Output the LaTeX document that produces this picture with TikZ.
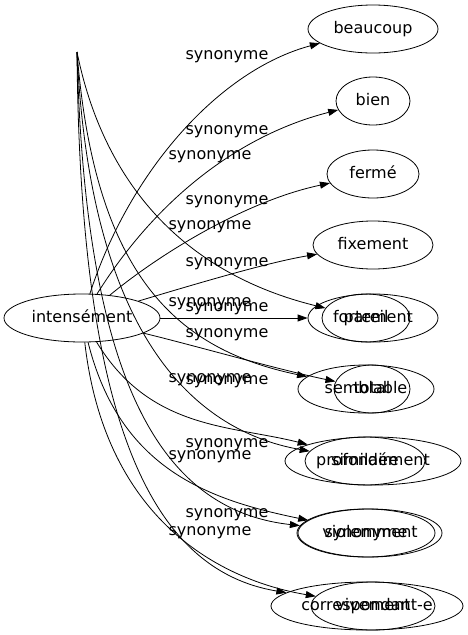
\documentclass[tikz,border=0pt]{standalone}
\usepackage{fontspec}
\setmainfont{DejaVu Sans}
\usepackage{tikz}
\usetikzlibrary{arrows.meta,shapes.geometric}
\newcommand{\wordfont}{\fontsize{16}{19}\selectfont}

\begin{document}
\begin{tikzpicture}[x=1pt,y=-1pt,
  word/.style={draw,ellipse,line width=0.8pt,inner sep=0pt,minimum height=48pt,text height=11.5pt,text depth=3.5pt,font=\wordfont},
  rel/.style={-{Triangle[length=10pt,width=7pt]},line width=0.8pt},
  lab/.style={font=\wordfont,inner sep=0pt,text height=11.5pt,text depth=3.5pt}]
  \useasboundingbox (0,0) rectangle (467,635);
  \node[word,minimum width=156pt] (I0) at (82,318) {intensément};
  \node[word,minimum width=130pt] (S1) at (373,29) {beaucoup};
  \node[word,minimum width=74pt] (S2) at (373,101) {bien};
  \node[word,minimum width=92pt] (S3) at (373,174) {fermé};
  \node[word,minimum width=120pt] (S4) at (373,245) {fixement};
  \node[word,minimum width=130pt] (S5) at (373,318) {fortement};
  \node[word,minimum width=76pt] (S6) at (372,389) {total};
  \node[word,minimum width=176pt] (S7) at (373,461) {profondément};
  \node[word,minimum width=144pt] (S8) at (370,533) {violemment};
  \node[word,minimum width=124pt] (S9) at (373,606) {vivement};
  \coordinate (T0) at (77,52);
  \node[word,minimum width=88pt] (T1) at (366,318) {pareil};
  \node[word,minimum width=136pt] (T2) at (366,389) {semblable};
  \node[word,minimum width=120pt] (T3) at (365,461) {similaire};
  \node[word,minimum width=138pt] (T4) at (366,533) {synonyme};
  \node[word,minimum width=192pt] (T5) at (367,606) {correspondant-e};
  \draw[rel] (I0) .. controls (130,170) and (220,70) .. (S1);
  \draw[rel] (I0) .. controls (157,198) and (240,135) .. (S2);
  \draw[rel] (I0) .. controls (166,249) and (250,200) .. (S3);
  \draw[rel] (I0) .. controls (202,282) and (270,262) .. (S4);
  \draw[rel] (I0) -- (S5);
  \draw[rel] (I0) .. controls (200,347) and (280,370) .. (S6);
  \draw[rel] (I0) .. controls (150,430) and (230,425) .. (S7);
  \draw[rel] (I0) .. controls (120,470) and (210,500) .. (S8);
  \draw[rel] (I0) .. controls (105,520) and (220,580) .. (S9);
  \draw[rel] (T0) .. controls (105,190) and (190,275) .. (T1);
  \draw[rel] (T0) .. controls (95,280) and (180,350) .. (T2);
  \draw[rel] (T0) .. controls (90,330) and (190,430) .. (T3);
  \draw[rel] (T0) .. controls (85,380) and (160,510) .. (T4);
  \draw[rel] (T0) .. controls (80,420) and (150,570) .. (T5);
  \node[lab] (L1) at (227,55) {synonyme};
  \node[lab] (L2) at (227,130) {synonyme};
  \node[lab] (L3) at (227,200) {synonyme};
  \node[lab] (L4) at (227,262) {synonyme};
  \node[lab] (L5) at (227,307) {synonyme};
  \node[lab] (L6) at (227,333) {synonyme};
  \node[lab] (L7) at (227,380) {synonyme};
  \node[lab] (L8) at (227,443) {synonyme};
  \node[lab] (L9) at (227,513) {synonyme};
  \node[lab] (M1) at (210,155) {synonyme};
  \node[lab] (M2) at (210,225) {synonyme};
  \node[lab] (M3) at (210,302) {synonyme};
  \node[lab] (M4) at (210,378) {synonyme};
  \node[lab] (M5) at (210,455) {synonyme};
  \node[lab] (M6) at (210,531) {synonyme};
\end{tikzpicture}
\end{document}
